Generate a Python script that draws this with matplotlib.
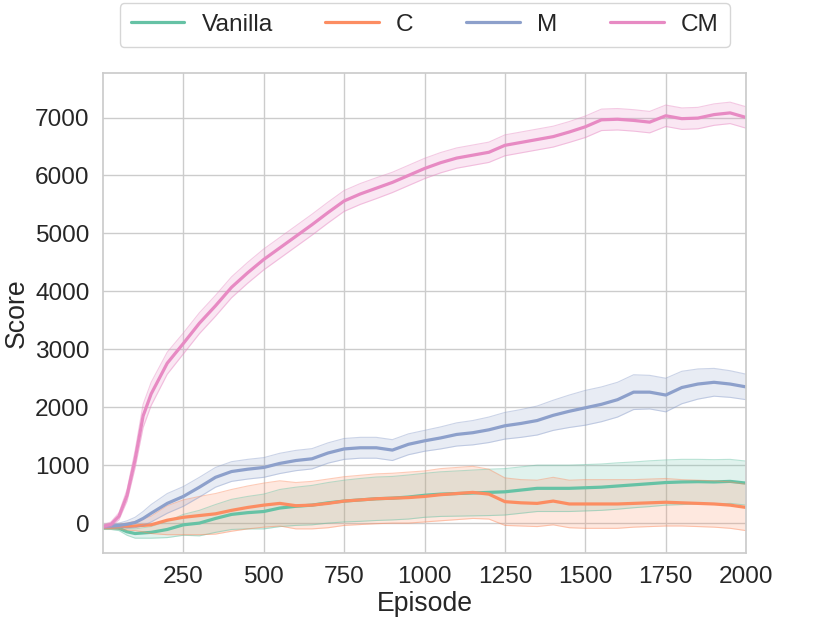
import numpy as np
import seaborn as sns
from matplotlib import pyplot as plt

episodes = [0, 25, 50, 75, 100, 125, 150, 200, 250, 300, 350, 400, 450, 500, 550,
            600, 650, 700, 750, 800, 850, 900, 950, 1000, 1050, 1100, 1150, 1200,
            1250, 1300, 1350, 1400, 1450, 1500, 1550, 1600, 1650, 1700, 1750, 1800,
            1850, 1900, 1950, 2000]

vanilla_mean = [-80, -80, -90, -150, -180, -170, -160, -110, -30, 0, 80, 150, 180, 200, 260,
                290, 310, 350, 380, 400, 420, 430, 450, 480, 500, 510, 520, 530,
                540, 570, 600, 600, 600, 610, 620, 640, 660, 680, 700, 710,
                715, 710, 720, 690]
vanilla_sd = [30, 30, 40, 60, 80, 90, 100, 140, 180, 220, 240, 260, 280, 300, 320,
              330, 340, 350, 360, 370, 375, 375, 380, 380, 385, 390, 395, 400,
              400, 400, 400, 400, 400, 400, 400, 400, 395, 395, 390, 390,
              385, 385, 380, 380]

c_mean = [-70, -70, -60, -60, -50, -40, -30, 50, 100, 130, 160, 220, 270, 310, 340,
          300, 310, 340, 380, 400, 420, 430, 440, 460, 490, 510, 530, 500,
          370, 350, 340, 380, 330, 330, 330, 330, 340, 350, 360, 350,
          340, 330, 310, 270]
c_sd = [30, 30, 40, 60, 80, 110, 150, 250, 300, 330, 350, 360, 370, 380, 390,
        400, 410, 420, 420, 425, 430, 430, 440, 440, 450, 450, 450, 430,
        410, 400, 400, 410, 410, 420, 420, 420, 410, 410, 410, 400,
        400, 400, 400, 400]

m_mean = [-60, -50, -40, -20, 10, 80, 170, 340, 460, 620, 790, 890, 930, 960, 1030,
          1080, 1110, 1210, 1280, 1300, 1300, 1260, 1360, 1420, 1470, 1530, 1560, 1610,
          1680, 1720, 1770, 1860, 1930, 1990, 2050, 2130, 2260, 2260, 2210, 2340,
          2400, 2430, 2400, 2350]
m_sd = [30, 30, 40, 60, 90, 120, 150, 170, 170, 170, 170, 170, 170, 170, 175,
        175, 175, 175, 180, 180, 180, 180, 180, 180, 190, 200, 210, 220,
        230, 240, 250, 260, 280, 300, 300, 300, 300, 290, 290, 280,
        260, 240, 230, 220]

cm_mean = [-60, -20, 120, 480, 1100, 1850, 2230, 2760, 3100, 3450, 3750, 4070, 4320, 4550, 4750,
           4950, 5150, 5360, 5560, 5680, 5780, 5880, 6000, 6120, 6220, 6300, 6350, 6400,
           6520, 6570, 6620, 6670, 6750, 6840, 6960, 6970, 6950, 6920, 7030, 6980,
           6990, 7050, 7080, 7000]
cm_sd = [30, 40, 60, 100, 150, 200, 200, 190, 180, 180, 180, 180, 180, 180, 180,
         180, 180, 180, 180, 180, 180, 175, 175, 175, 175, 175, 175, 175,
         180, 180, 180, 180, 180, 185, 185, 185, 185, 185, 185, 185,
         185, 185, 185, 185]

labels = ["Vanilla", "C", "M", "CM"]
means = [vanilla_mean, c_mean, m_mean, cm_mean]
sds = [vanilla_sd, c_sd, m_sd, cm_sd]

sns.set_theme(style="whitegrid", font_scale=1.6)
plt.rcParams['font.family'] = ['Liberation Sans', 'DejaVu Sans']
colors = sns.color_palette("Set2", 4)

fig = plt.figure(figsize=(8.3, 6.23), dpi=100)
ax = fig.add_axes([0.124, 0.112, 0.775, 0.771])

x = np.array(episodes)
for lab, mu, sd, col in zip(labels, means, sds, colors):
    mu = np.array(mu, dtype=float)
    sd = np.array(sd, dtype=float)
    ax.fill_between(x, mu - sd, mu + sd, color=col, alpha=0.2, linewidth=0)
    ax.plot(x, mu - sd, color=col, alpha=0.45, linewidth=0.8)
    ax.plot(x, mu + sd, color=col, alpha=0.45, linewidth=0.8)
    ax.plot(x, mu, color=col, linewidth=2.3, label=lab)

ax.set_xlim(0, 2000)
ax.set_ylim(-520, 7770)
ax.set_xticks([250, 500, 750, 1000, 1250, 1500, 1750, 2000])
ax.set_yticks(range(0, 7001, 1000))
ax.set_xlabel("Episode", labelpad=2)
ax.set_ylabel("Score")

ax.legend(loc="lower center", bbox_to_anchor=(0.5, 1.054), ncol=4,
          borderaxespad=0, columnspacing=2.15, handletextpad=0.7,
          handlelength=2.2, borderpad=0.45)

fig.savefig("out.png", dpi=100)
